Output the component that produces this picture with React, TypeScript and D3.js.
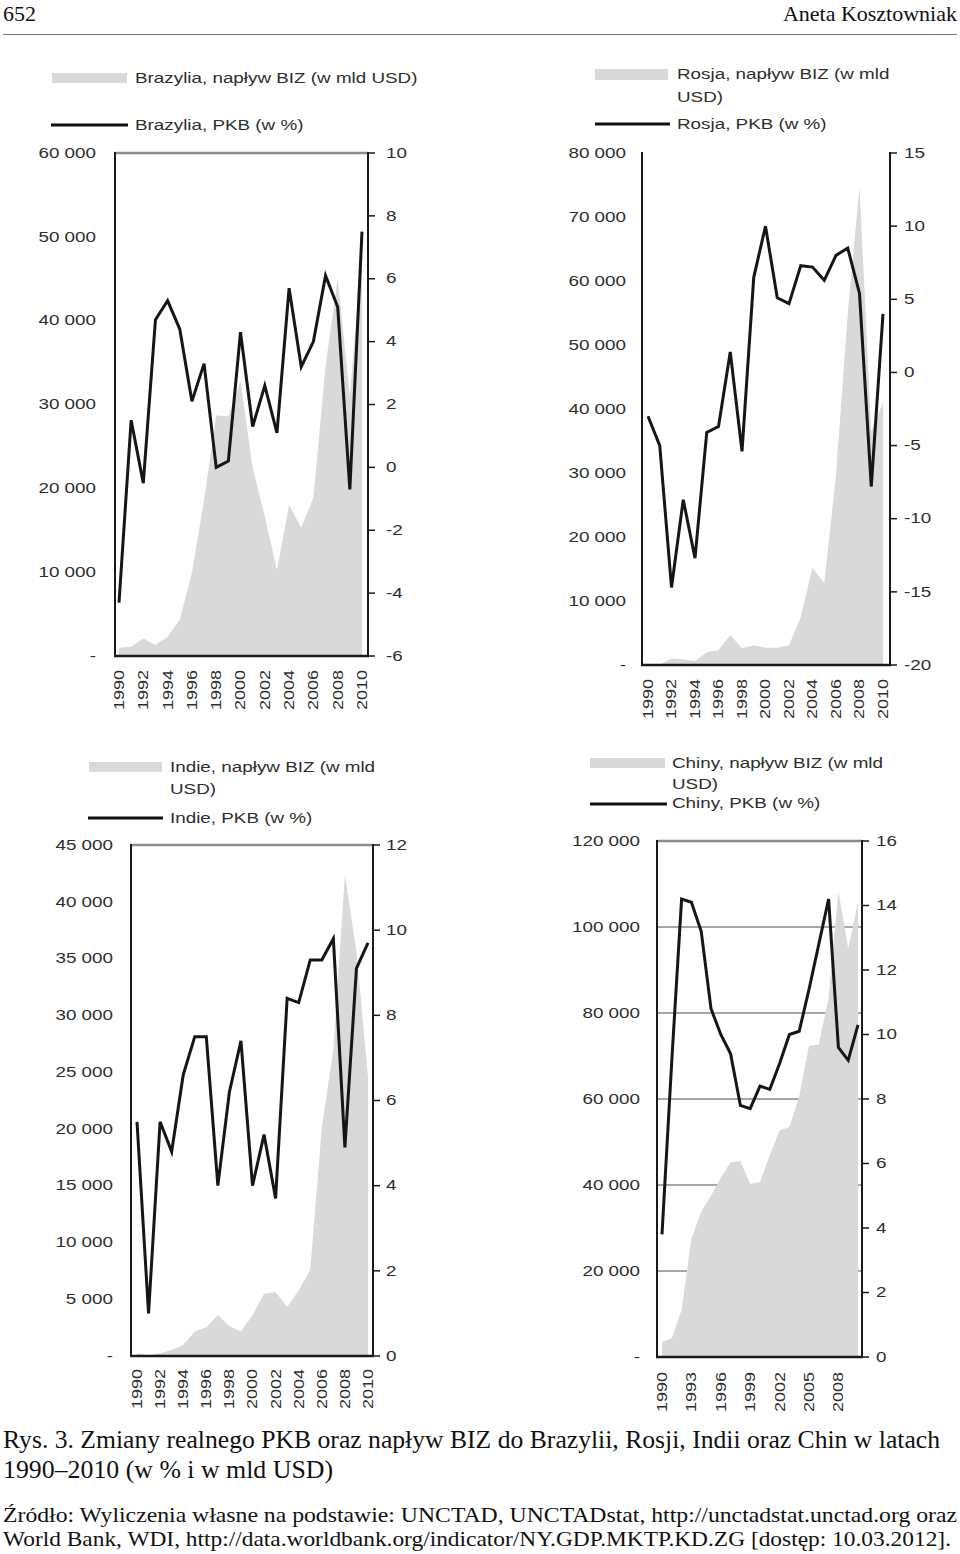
import React from 'react';
import * as d3 from 'd3';

// ---------- data ----------
const YEARS = [1990, 1991, 1992, 1993, 1994, 1995, 1996, 1997, 1998, 1999, 2000, 2001, 2002, 2003, 2004, 2005, 2006, 2007, 2008, 2009, 2010];

const brazilFDI = [989, 1103, 2100, 1300, 2300, 4300, 9900, 18600, 28700, 28600, 32800, 22500, 16600, 10300, 18000, 15300, 18900, 34600, 45000, 31000, 48500];
const brazilGDP = [-4.3, 1.5, -0.5, 4.7, 5.3, 4.4, 2.1, 3.3, 0.0, 0.2, 4.3, 1.3, 2.6, 1.1, 5.7, 3.2, 4.0, 6.1, 5.1, -0.7, 7.5];

const russiaFDI = [0, 0, 1000, 900, 600, 2000, 2300, 4700, 2600, 3100, 2700, 2700, 3100, 7500, 15200, 12800, 29700, 55000, 74700, 36500, 41000];
const russiaGDP = [-3.0, -5.0, -14.7, -8.7, -12.7, -4.1, -3.7, 1.4, -5.4, 6.5, 10.0, 5.1, 4.7, 7.3, 7.2, 6.3, 8.0, 8.5, 5.4, -7.8, 4.0];

const indiaFDI = [237, 75, 252, 532, 974, 2150, 2525, 3620, 2633, 2168, 3588, 5478, 5630, 4323, 5771, 7606, 20100, 27000, 42400, 35600, 24600];
const indiaGDP = [5.5, 1.0, 5.5, 4.8, 6.6, 7.5, 7.5, 4.0, 6.2, 7.4, 4.0, 5.2, 3.7, 8.4, 8.3, 9.3, 9.3, 9.8, 4.9, 9.1, 9.7];

const chinaFDI = [3490, 4370, 11000, 27500, 33800, 37500, 41700, 45300, 45500, 40300, 40700, 46900, 52700, 53500, 60600, 72400, 72700, 83500, 108300, 95000, 105700];
const chinaGDP = [3.8, 9.2, 14.2, 14.1, 13.2, 10.8, 10.0, 9.4, 7.8, 7.7, 8.4, 8.3, 9.1, 10.0, 10.1, 11.4, 12.8, 14.2, 9.6, 9.2, 10.3];

const brazilLeftTicks = [0, 10000, 20000, 30000, 40000, 50000, 60000];
const brazilRightTicks = [-6, -4, -2, 0, 2, 4, 6, 8, 10];
const brazilXTicks = [1990, 1992, 1994, 1996, 1998, 2000, 2002, 2004, 2006, 2008, 2010];

const russiaLeftTicks = [0, 10000, 20000, 30000, 40000, 50000, 60000, 70000, 80000];
const russiaRightTicks = [-20, -15, -10, -5, 0, 5, 10, 15];
const russiaXTicks = [1990, 1992, 1994, 1996, 1998, 2000, 2002, 2004, 2006, 2008, 2010];

const indiaLeftTicks = [0, 5000, 10000, 15000, 20000, 25000, 30000, 35000, 40000, 45000];
const indiaRightTicks = [0, 2, 4, 6, 8, 10, 12];
const indiaXTicks = [1990, 1992, 1994, 1996, 1998, 2000, 2002, 2004, 2006, 2008, 2010];

const chinaLeftTicks = [0, 20000, 40000, 60000, 80000, 100000, 120000];
const chinaRightTicks = [0, 2, 4, 6, 8, 10, 12, 14, 16];
const chinaXTicks = [1990, 1993, 1996, 1999, 2002, 2005, 2008];
const chinaGridTicks = [20000, 40000, 60000, 80000, 100000];

const brazilLegend = ['Brazylia, napływ BIZ (w mld USD)', 'Brazylia, PKB (w %)'];
const russiaLegend = ['Rosja, napływ BIZ (w mld', 'USD)', 'Rosja, PKB (w %)'];
const indiaLegend = ['Indie, napływ BIZ (w mld', 'USD)', 'Indie, PKB (w %)'];
const chinaLegend = ['Chiny, napływ BIZ (w mld', 'USD)', 'Chiny, PKB (w %)'];

// ---------- styles ----------
const SANS = "'Liberation Sans', Arial, sans-serif";
const SERIF = "'Liberation Serif', 'Times New Roman', serif";
const TEXT = '#2e2e2e';
const AREA = '#d9d9da';

const fmtLeft = (v: number) => (v === 0 ? '-' : d3.format(',')(v).replace(/,/g, ' '));

function T(props: { x: number; y: number; anchor?: string; rotate?: number; size?: number; sx?: number; children: any }) {
  const { x, y, anchor = 'start', rotate = 0, size = 14.5, sx = 1.3, children } = props;
  return (
    <text
      transform={`translate(${x},${y}) rotate(${rotate}) scale(${sx},1)`}
      textAnchor={anchor as any}
      dominantBaseline="central"
      fontSize={size}
      fontFamily={SANS}
      fill={TEXT}
    >
      {children}
    </text>
  );
}

type Frame = { l: number; r: number; t: number; b: number };
type LegendCfg = {
  sw: { x: number; y: number; w: number; h: number };
  ln: { x1: number; x2: number; y: number };
  tx: number;
  rows: number[];
};

function Panel(p: {
  fdi: number[];
  gdp: number[];
  leftTicks: number[];
  rightTicks: number[];
  xTicks: number[];
  leftDomain: [number, number];
  rightDomain: [number, number];
  frame: Frame;
  xRange: [number, number];
  leftLabelX: number;
  rightLabelX: number;
  xLabelTop: number;
  topBorder: boolean;
  grid?: number[];
  legendTexts: string[];
  legend: LegendCfg;
}) {
  const { frame } = p;
  const x = d3.scaleLinear().domain([YEARS[0], YEARS[YEARS.length - 1]]).range(p.xRange);
  const yL = d3.scaleLinear().domain(p.leftDomain).range([frame.b, frame.t]);
  const yR = d3.scaleLinear().domain(p.rightDomain).range([frame.b, frame.t]);

  const area = d3
    .area<number>()
    .x((_, i) => x(YEARS[i]))
    .y0(yL(0))
    .y1((d) => yL(d));
  const line = d3
    .line<number>()
    .x((_, i) => x(YEARS[i]))
    .y((d) => yR(d));

  const lg = p.legend;

  return (
    <g>
      <rect x={lg.sw.x} y={lg.sw.y} width={lg.sw.w} height={lg.sw.h} fill={AREA} />
      <line x1={lg.ln.x1} x2={lg.ln.x2} y1={lg.ln.y} y2={lg.ln.y} stroke="#111" strokeWidth={3} />
      {p.legendTexts.map((t, i) => (
        <T key={'lg' + i} x={lg.tx} y={lg.rows[i]} sx={1.3}>
          {t}
        </T>
      ))}

      {(p.grid || []).map((v) => (
        <line key={'g' + v} x1={frame.l} x2={frame.r} y1={yL(v)} y2={yL(v)} stroke="#8a8a8a" strokeWidth={1.5} />
      ))}

      <path d={area(p.fdi) || ''} fill={AREA} />
      <path d={line(p.gdp) || ''} fill="none" stroke="#161616" strokeWidth={3} strokeLinejoin="miter" />

      {p.topBorder && <line x1={frame.l} x2={frame.r} y1={frame.t} y2={frame.t} stroke="#8c8c8c" strokeWidth={2.5} />}
      <line x1={frame.l} x2={frame.l} y1={frame.t - 1} y2={frame.b} stroke="#1a1a1a" strokeWidth={2} />
      <line x1={frame.r} x2={frame.r} y1={frame.t - 1} y2={frame.b} stroke="#1a1a1a" strokeWidth={2} />
      <line x1={frame.l - 1} x2={frame.r + 1} y1={frame.b} y2={frame.b} stroke="#1a1a1a" strokeWidth={2.5} />

      {p.rightTicks.map((v) => (
        <g key={'r' + v}>
          <line x1={frame.r} x2={frame.r + 7} y1={yR(v)} y2={yR(v)} stroke="#1a1a1a" strokeWidth={1.5} />
          <T x={p.rightLabelX} y={yR(v)}>
            {String(v)}
          </T>
        </g>
      ))}

      {p.leftTicks.map((v) => (
        <T key={'l' + v} x={p.leftLabelX} y={yL(v)} anchor="end">
          {fmtLeft(v)}
        </T>
      ))}

      {p.xTicks.map((yr) => (
        <T key={'x' + yr} x={x(yr)} y={p.xLabelTop} anchor="end" rotate={-90} size={15} sx={1.2}>
          {String(yr)}
        </T>
      ))}
    </g>
  );
}

export default function App() {
  return (
    <svg
      width={960}
      height={1554}
      viewBox="0 0 960 1554"
      style={{ position: 'absolute', left: 0, top: 0, display: 'block', background: '#fff' }}
    >
      <rect x={0} y={0} width={960} height={1554} fill="#fff" />

      <text x={3} y={21} fontFamily={SERIF} fontSize={22} fill="#111">
        652
      </text>
      <text x={957} y={21} textAnchor="end" fontFamily={SERIF} fontSize={22} fill="#111">
        Aneta Kosztowniak
      </text>
      <line x1={3} x2={957} y1={34.5} y2={34.5} stroke="#777" strokeWidth={1} />

      <Panel
        fdi={brazilFDI}
        gdp={brazilGDP}
        leftTicks={brazilLeftTicks}
        rightTicks={brazilRightTicks}
        xTicks={brazilXTicks}
        leftDomain={[0, 60000]}
        rightDomain={[-6, 10]}
        frame={{ l: 115, r: 368, t: 153, b: 656 }}
        xRange={[119, 362]}
        leftLabelX={96}
        rightLabelX={386}
        xLabelTop={670}
        topBorder={true}
        legendTexts={brazilLegend}
        legend={{ sw: { x: 52, y: 73, w: 75, h: 10 }, ln: { x1: 51, x2: 128, y: 125 }, tx: 135, rows: [78, 125] }}
      />

      <Panel
        fdi={russiaFDI}
        gdp={russiaGDP}
        leftTicks={russiaLeftTicks}
        rightTicks={russiaRightTicks}
        xTicks={russiaXTicks}
        leftDomain={[0, 80000]}
        rightDomain={[-20, 15]}
        frame={{ l: 642, r: 890, t: 153, b: 665 }}
        xRange={[648, 883]}
        leftLabelX={626}
        rightLabelX={904}
        xLabelTop={679}
        topBorder={false}
        legendTexts={russiaLegend}
        legend={{ sw: { x: 595, y: 69, w: 73, h: 11 }, ln: { x1: 595, x2: 670, y: 124 }, tx: 677, rows: [74, 97, 124] }}
      />

      <Panel
        fdi={indiaFDI}
        gdp={indiaGDP}
        leftTicks={indiaLeftTicks}
        rightTicks={indiaRightTicks}
        xTicks={indiaXTicks}
        leftDomain={[0, 45000]}
        rightDomain={[0, 12]}
        frame={{ l: 131, r: 373, t: 845, b: 1356 }}
        xRange={[137, 368]}
        leftLabelX={113}
        rightLabelX={386}
        xLabelTop={1369}
        topBorder={true}
        legendTexts={indiaLegend}
        legend={{ sw: { x: 89, y: 762, w: 73, h: 10 }, ln: { x1: 88, x2: 163, y: 818 }, tx: 170, rows: [767, 789, 818] }}
      />

      <Panel
        fdi={chinaFDI}
        gdp={chinaGDP}
        leftTicks={chinaLeftTicks}
        rightTicks={chinaRightTicks}
        xTicks={chinaXTicks}
        leftDomain={[0, 120000]}
        rightDomain={[0, 16]}
        frame={{ l: 657, r: 862, t: 841, b: 1357 }}
        xRange={[662, 858]}
        leftLabelX={640}
        rightLabelX={876}
        xLabelTop={1372}
        topBorder={true}
        grid={chinaGridTicks}
        legendTexts={chinaLegend}
        legend={{ sw: { x: 590, y: 758, w: 75, h: 10 }, ln: { x1: 590, x2: 667, y: 804 }, tx: 672, rows: [763, 784, 803] }}
      />

      <text x={3} y={1448} fontFamily={SERIF} fontSize={25} fill="#111" textLength={937} lengthAdjust="spacingAndGlyphs">
        Rys. 3. Zmiany realnego PKB oraz napływ BIZ do Brazylii, Rosji, Indii oraz Chin w latach
      </text>
      <text x={3} y={1478} fontFamily={SERIF} fontSize={25} fill="#111" textLength={330} lengthAdjust="spacingAndGlyphs">
        1990–2010 (w % i w mld USD)
      </text>
      <text x={3} y={1522} fontFamily={SERIF} fontSize={22} fill="#111" textLength={954} lengthAdjust="spacingAndGlyphs">
        Źródło: Wyliczenia własne na podstawie: UNCTAD, UNCTADstat, http://unctadstat.unctad.org oraz
      </text>
      <text x={3} y={1546} fontFamily={SERIF} fontSize={22} fill="#111" textLength={948} lengthAdjust="spacingAndGlyphs">
        World Bank, WDI, http://data.worldbank.org/indicator/NY.GDP.MKTP.KD.ZG [dostęp: 10.03.2012].
      </text>
    </svg>
  );
}
